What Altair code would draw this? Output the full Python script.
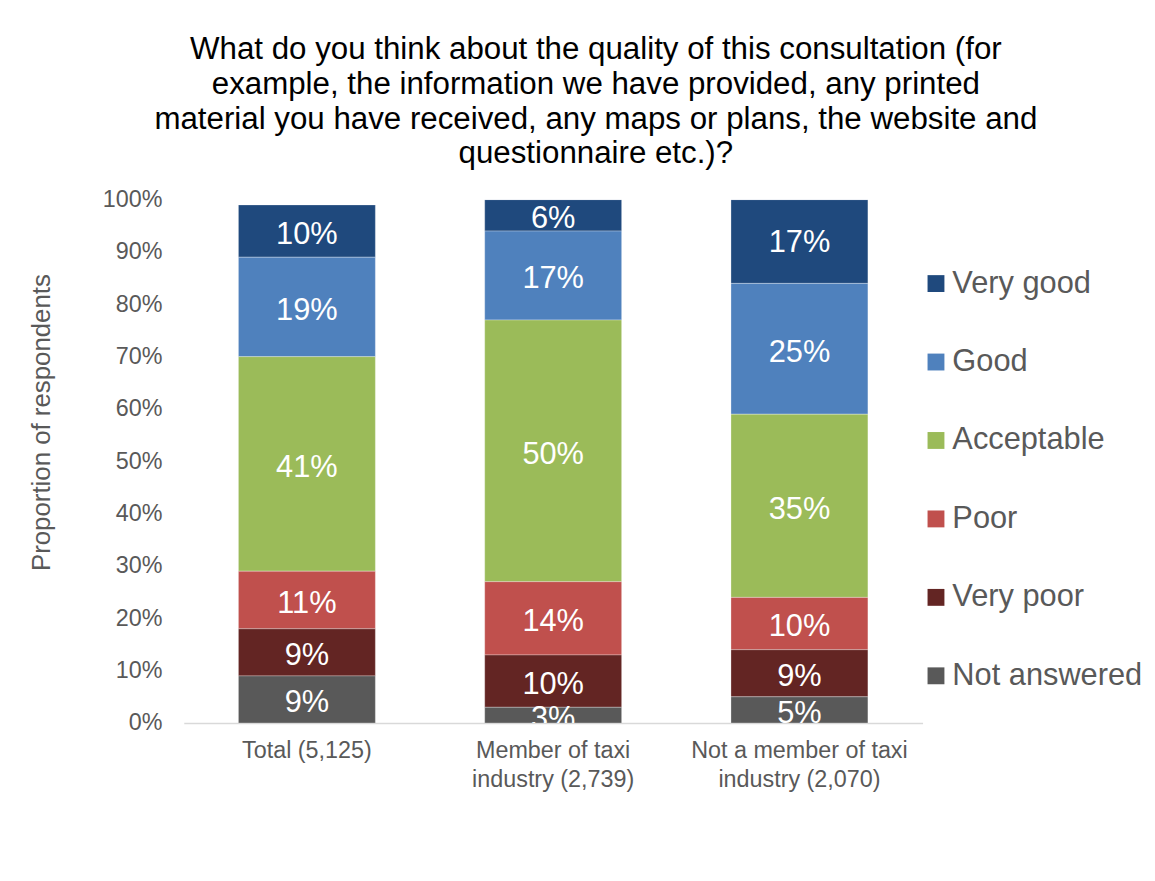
import altair as alt
import pandas as pd

groups = ["Total (5,125)", "Member of taxi|industry (2,739)", "Not a member of taxi|industry (2,070)"]
ratings = ["Very good", "Good", "Acceptable", "Poor", "Very poor", "Not answered"]
colors = ["#1F497D", "#4F81BD", "#9BBB59", "#C0504D", "#632523", "#595959"]
total = [10, 19, 41, 11, 9, 9]
member = [6, 17, 50, 14, 10, 3]
non_member = [17, 25, 35, 10, 9, 5]
y_ticks = [0, 0.1, 0.2, 0.3, 0.4, 0.5, 0.6, 0.7, 0.8, 0.9, 1.0]
title_lines = [
    "What do you think about the quality of this consultation (for",
    "example, the information we have provided, any printed",
    "material you have received, any maps or plans, the website and",
    "questionnaire etc.)?",
]

rows = []
for g, vals in zip(groups, [total, member, non_member]):
    for i, (r, v) in enumerate(zip(ratings, vals)):
        rows.append({"group": g, "rating": r, "v": v / 100, "ord": len(ratings) - 1 - i})
df = pd.DataFrame(rows)

FONT = "Liberation Sans"

base = alt.Chart(df).transform_stack(
    stack="v", groupby=["group"], sort=[alt.SortField("ord", order="ascending")], as_=["y0", "y1"]
).transform_calculate(mid="(datum.y0 + datum.y1) / 2")

x_enc = alt.X(
    "group:N",
    sort=groups,
    scale=alt.Scale(paddingInner=0.444, paddingOuter=0.222),
    axis=alt.Axis(
        title=None,
        labelAngle=0,
        labelExpr="split(datum.label, '|')",
        labelFont=FONT,
        labelFontSize=23.5,
        labelColor="#595959",
        labelLineHeight=29,
        labelPadding=16,
        labelLimit=400,
        ticks=False,
        domainColor="#D9D9D9",
        domainWidth=1.5,
    ),
)

y_scale = alt.Scale(domain=[0, 1], clamp=True, nice=False)

bars = base.mark_bar(stroke="white", strokeWidth=0.5, strokeOpacity=0.6, clip=True).encode(
    x=x_enc,
    y=alt.Y(
        "y0:Q",
        scale=y_scale,
        axis=alt.Axis(
            values=y_ticks,
            format=".0%",
            labelFont=FONT,
            labelFontSize=23.5,
            labelColor="#595959",
            labelPadding=22,
            domain=False,
            ticks=False,
            tickSize=0,
            grid=False,
            title="Proportion of respondents",
            titleFont=FONT,
            titleFontSize=26,
            titleFontWeight="normal",
            titleColor="#595959",
            titleX=-143,
            titleY=224,
            titleAngle=-90,
            titleAlign="center",
            titleBaseline="middle",
        ),
    ),
    y2="y1:Q",
    color=alt.Color(
        "rating:N",
        scale=alt.Scale(domain=ratings, range=colors),
        legend=alt.Legend(
            title=None,
            orient="none",
            legendX=742,
            legendY=69,
            symbolType="square",
            symbolSize=289,
            symbolStrokeWidth=0,
            labelFont=FONT,
            labelFontSize=31,
            labelColor="#595959",
            labelOffset=1,
            rowPadding=47,
            padding=0,
            labelLimit=300,
        ),
    ),
)

texts = base.mark_text(color="white", fontSize=31, font=FONT, clip=True, dy=4).encode(
    x=alt.X("group:N", sort=groups),
    y=alt.Y("mid:Q", scale=y_scale),
    text=alt.Text("v:Q", format=".0%"),
)

chart = alt.layer(bars, texts).properties(
    width=744,
    height=527,
    autosize=alt.AutoSizeParams(type="none"),
    padding={"left": 177, "top": 190, "right": 226, "bottom": 140},
    title=alt.Title(
        text=title_lines,
        font=FONT,
        fontSize=31.5,
        fontWeight="normal",
        lineHeight=35,
        color="#000000",
        anchor="middle",
        dx=43,
        offset=18,
    ),
).configure(background="white").configure_view(stroke=None, strokeWidth=0)

chart.save("out.html", embed_options={"renderer": "svg", "actions": False})
